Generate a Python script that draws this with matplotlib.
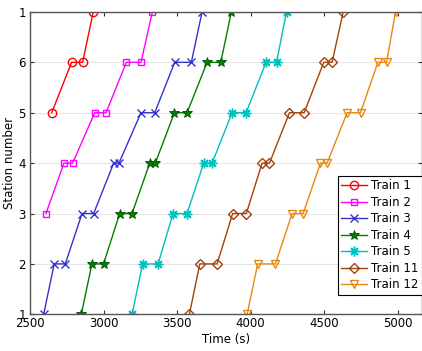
import matplotlib
matplotlib.use('Agg')
import matplotlib.pyplot as plt

# departure / arrival times (s) per station visit
stations_short = [5, 6, 6, 7]
stations_mid = [3, 4, 4, 5, 5, 6, 6, 7]
stations_full = [1, 2, 2, 3, 3, 4, 4, 5, 5, 6, 6, 7]

train1 = [2648, 2783, 2858, 2930]
train2 = [2609, 2731, 2790, 2940, 3017, 3155, 3255, 3332]
train3 = [2593, 2665, 2740, 2854, 2933, 3069, 3105, 3255, 3348, 3484, 3597, 3670]
train4 = [2849, 2921, 3000, 3110, 3194, 3314, 3352, 3482, 3568, 3704, 3797, 3869]
train5 = [3194, 3266, 3371, 3473, 3568, 3681, 3738, 3874, 3969, 4105, 4176, 4244]
train11 = [3584, 3654, 3772, 3878, 3971, 4078, 4128, 4264, 4364, 4497, 4554, 4629]
train12 = [3976, 4048, 4169, 4282, 4357, 4475, 4520, 4656, 4747, 4865, 4924, 4985]

names = ['Train 1', 'Train 2', 'Train 3', 'Train 4', 'Train 5', 'Train 11', 'Train 12']
times = [train1, train2, train3, train4, train5, train11, train12]
stations = [stations_short, stations_mid] + [stations_full] * 5

ytick_vals = [1, 2, 3, 4, 5, 6, 7]
ytick_labels = ['1', '2', '3', '4', '5', '6', '1']

colors = ['#ff0000', '#ff00ff', '#3333cc', '#008000', '#00bfbf', '#a3420a', '#e8890f']
markers = ['o', 's', 'x', '*', (8, 2, 0), 'D', 'v']
msizes = [6, 5, 6, 7, 7, 5, 6]

plt.rcParams['font.family'] = 'DejaVu Sans'
plt.rcParams['font.size'] = 8

fig = plt.figure(figsize=(4.22, 3.51), dpi=100)
ax = fig.add_axes([0.071, 0.1045, 0.929, 0.8615])

for t, s, name, c, m, ms in zip(times, stations, names, colors, markers, msizes):
    if m == '*':
        ax.plot(t, s, color=c, marker=m, markersize=ms, markerfacecolor=c,
                markeredgecolor='#005000', markeredgewidth=0.6, linewidth=1, label=name)
    else:
        ax.plot(t, s, color=c, marker=m, markersize=ms, markerfacecolor='none',
                markeredgewidth=1, linewidth=1, label=name)

ax.set_xlim(2500, 5165)
ax.set_ylim(1, 7)
ax.set_xticks([2500, 3000, 3500, 4000, 4500, 5000])
ax.set_yticks(ytick_vals)
ax.set_yticklabels(ytick_labels)
ax.yaxis.grid(True, color='#e6e6e6', linewidth=0.8)
ax.set_axisbelow(True)
ax.tick_params(direction='in', top=True, right=True, length=3, width=0.8,
               color='#333333', labelsize=8.5, pad=2)
ax.tick_params(axis='y', pad=3)
for sp in ax.spines.values():
    sp.set_color('#555555')
    sp.set_linewidth(1)

ax.set_xlabel('Time (s)', fontsize=8.5, labelpad=0)
ax.set_ylabel('Station number', fontsize=8.5, labelpad=2)
ax.xaxis.set_label_coords(0.5, -0.063)

leg = ax.legend(loc='lower right', bbox_to_anchor=(0.999, 0.064), fontsize=8.5,
                fancybox=False, framealpha=1, edgecolor='black', handlelength=2.2,
                borderpad=0.3, labelspacing=0.3, handletextpad=0.3, borderaxespad=0)
leg.get_frame().set_linewidth(0.8)

fig.savefig('out.png', dpi=100)
